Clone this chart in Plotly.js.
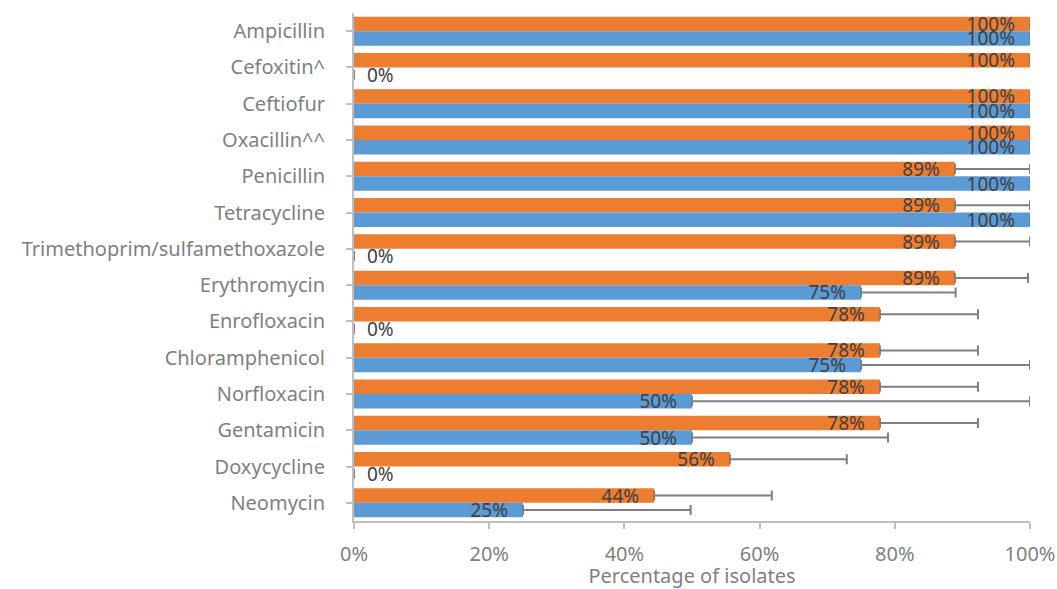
<!DOCTYPE html>
<html>
<head>
<meta charset="utf-8">
<script src="https://cdn.plot.ly/plotly-3.0.1.min.js"></script>
<style>html,body{margin:0;padding:0;background:#fff;}#chart{width:1057px;height:589px;}</style>
</head>
<body>
<div id="chart"></div>
<script>
var categories = ["Ampicillin","Cefoxitin^","Ceftiofur","Oxacillin^^","Penicillin","Tetracycline","Trimethoprim/sulfamethoxazole","Erythromycin","Enrofloxacin","Chloramphenicol","Norfloxacin","Gentamicin","Doxycycline","Neomycin"];
var orangeValues = [1.0,1.0,1.0,1.0,0.889,0.889,0.889,0.889,0.778,0.778,0.778,0.778,0.556,0.444];
var orangeErrPlus = [0,0,0,0,0.111,0.111,0.111,0.108,0.145,0.145,0.145,0.145,0.173,0.174];
var blueValues = [1.0,0,1.0,1.0,1.0,1.0,0,0.75,0,0.75,0.5,0.5,0,0.25];
var blueErrPlus = [0,0,0,0,0,0,0,0.14,0,0.25,0.5,0.29,0,0.248];

var PAD_END = '<span style="font-size:15px;color:rgba(0,0,0,0)">...</span>';
function positions(vals){ return vals.map(function(v){ return v === 0 ? "outside" : "inside"; }); }
function templates(vals){
  return vals.map(function(v){
    return v === 0 ? "\u00a0\u00a0%{x:.0%}" : "%{x:.0%}" + PAD_END;
  });
}

var FONT = "Noto Sans, sans-serif";
var labelFont = {family: FONT, size: 19, color: "#404040"};
var errStyle = {type: "data", symmetric: false, color: "#7f7f7f", thickness: 2, width: 5};

function makeTrace(vals, errs, color, name){
  return {
    type: "bar", orientation: "h", name: name,
    y: categories, x: vals,
    marker: {color: color, line: {width: 0}},
    texttemplate: templates(vals), textposition: positions(vals),
    insidetextanchor: "end", constraintext: "none",
    insidetextfont: labelFont, outsidetextfont: labelFont, textfont: labelFont,
    error_x: Object.assign({array: errs, arrayminus: errs.map(function(){return 0;})}, errStyle),
    cliponaxis: false, hoverinfo: "x+y"
  };
}

var traceOrange = makeTrace(orangeValues, orangeErrPlus, "#ED7D31", "Series A");
var traceBlue = makeTrace(blueValues, blueErrPlus, "#5B9BD5", "Series B");

var layout = {
  width: 1057, height: 589,
  margin: {l: 354, r: 27, t: 13, b: 68},
  paper_bgcolor: "#ffffff", plot_bgcolor: "#ffffff",
  barmode: "group", bargap: 0.2, bargroupgap: 0,
  showlegend: false,
  font: {family: FONT, color: "#7f7f7f"},
  xaxis: {
    range: [0, 1], dtick: 0.2, tick0: 0, tickformat: ".0%",
    showgrid: false, zeroline: false,
    showline: true, linecolor: "#bfbfbf", linewidth: 2,
    ticks: "outside", ticklen: 6, tickcolor: "#bfbfbf", tickwidth: 2,
    tickfont: {family: FONT, size: 20, color: "#7f7f7f"},
    ticklabelstandoff: 8,
    title: {text: "Percentage of isolates", font: {family: FONT, size: 20, color: "#7f7f7f"}, standoff: 5},
    fixedrange: true
  },
  yaxis: {
    type: "category", autorange: "reversed",
    showgrid: false, zeroline: false,
    showline: true, linecolor: "#bfbfbf", linewidth: 2,
    ticks: "outside", ticklen: 6, tickcolor: "#bfbfbf", tickwidth: 2,
    tickfont: {family: FONT, size: 20, color: "#7f7f7f"},
    ticklabelstandoff: 17,
    fixedrange: true
  }
};

Plotly.newPlot("chart", [traceOrange, traceBlue], layout, {displayModeBar: false, staticPlot: true});
</script>
</body>
</html>
